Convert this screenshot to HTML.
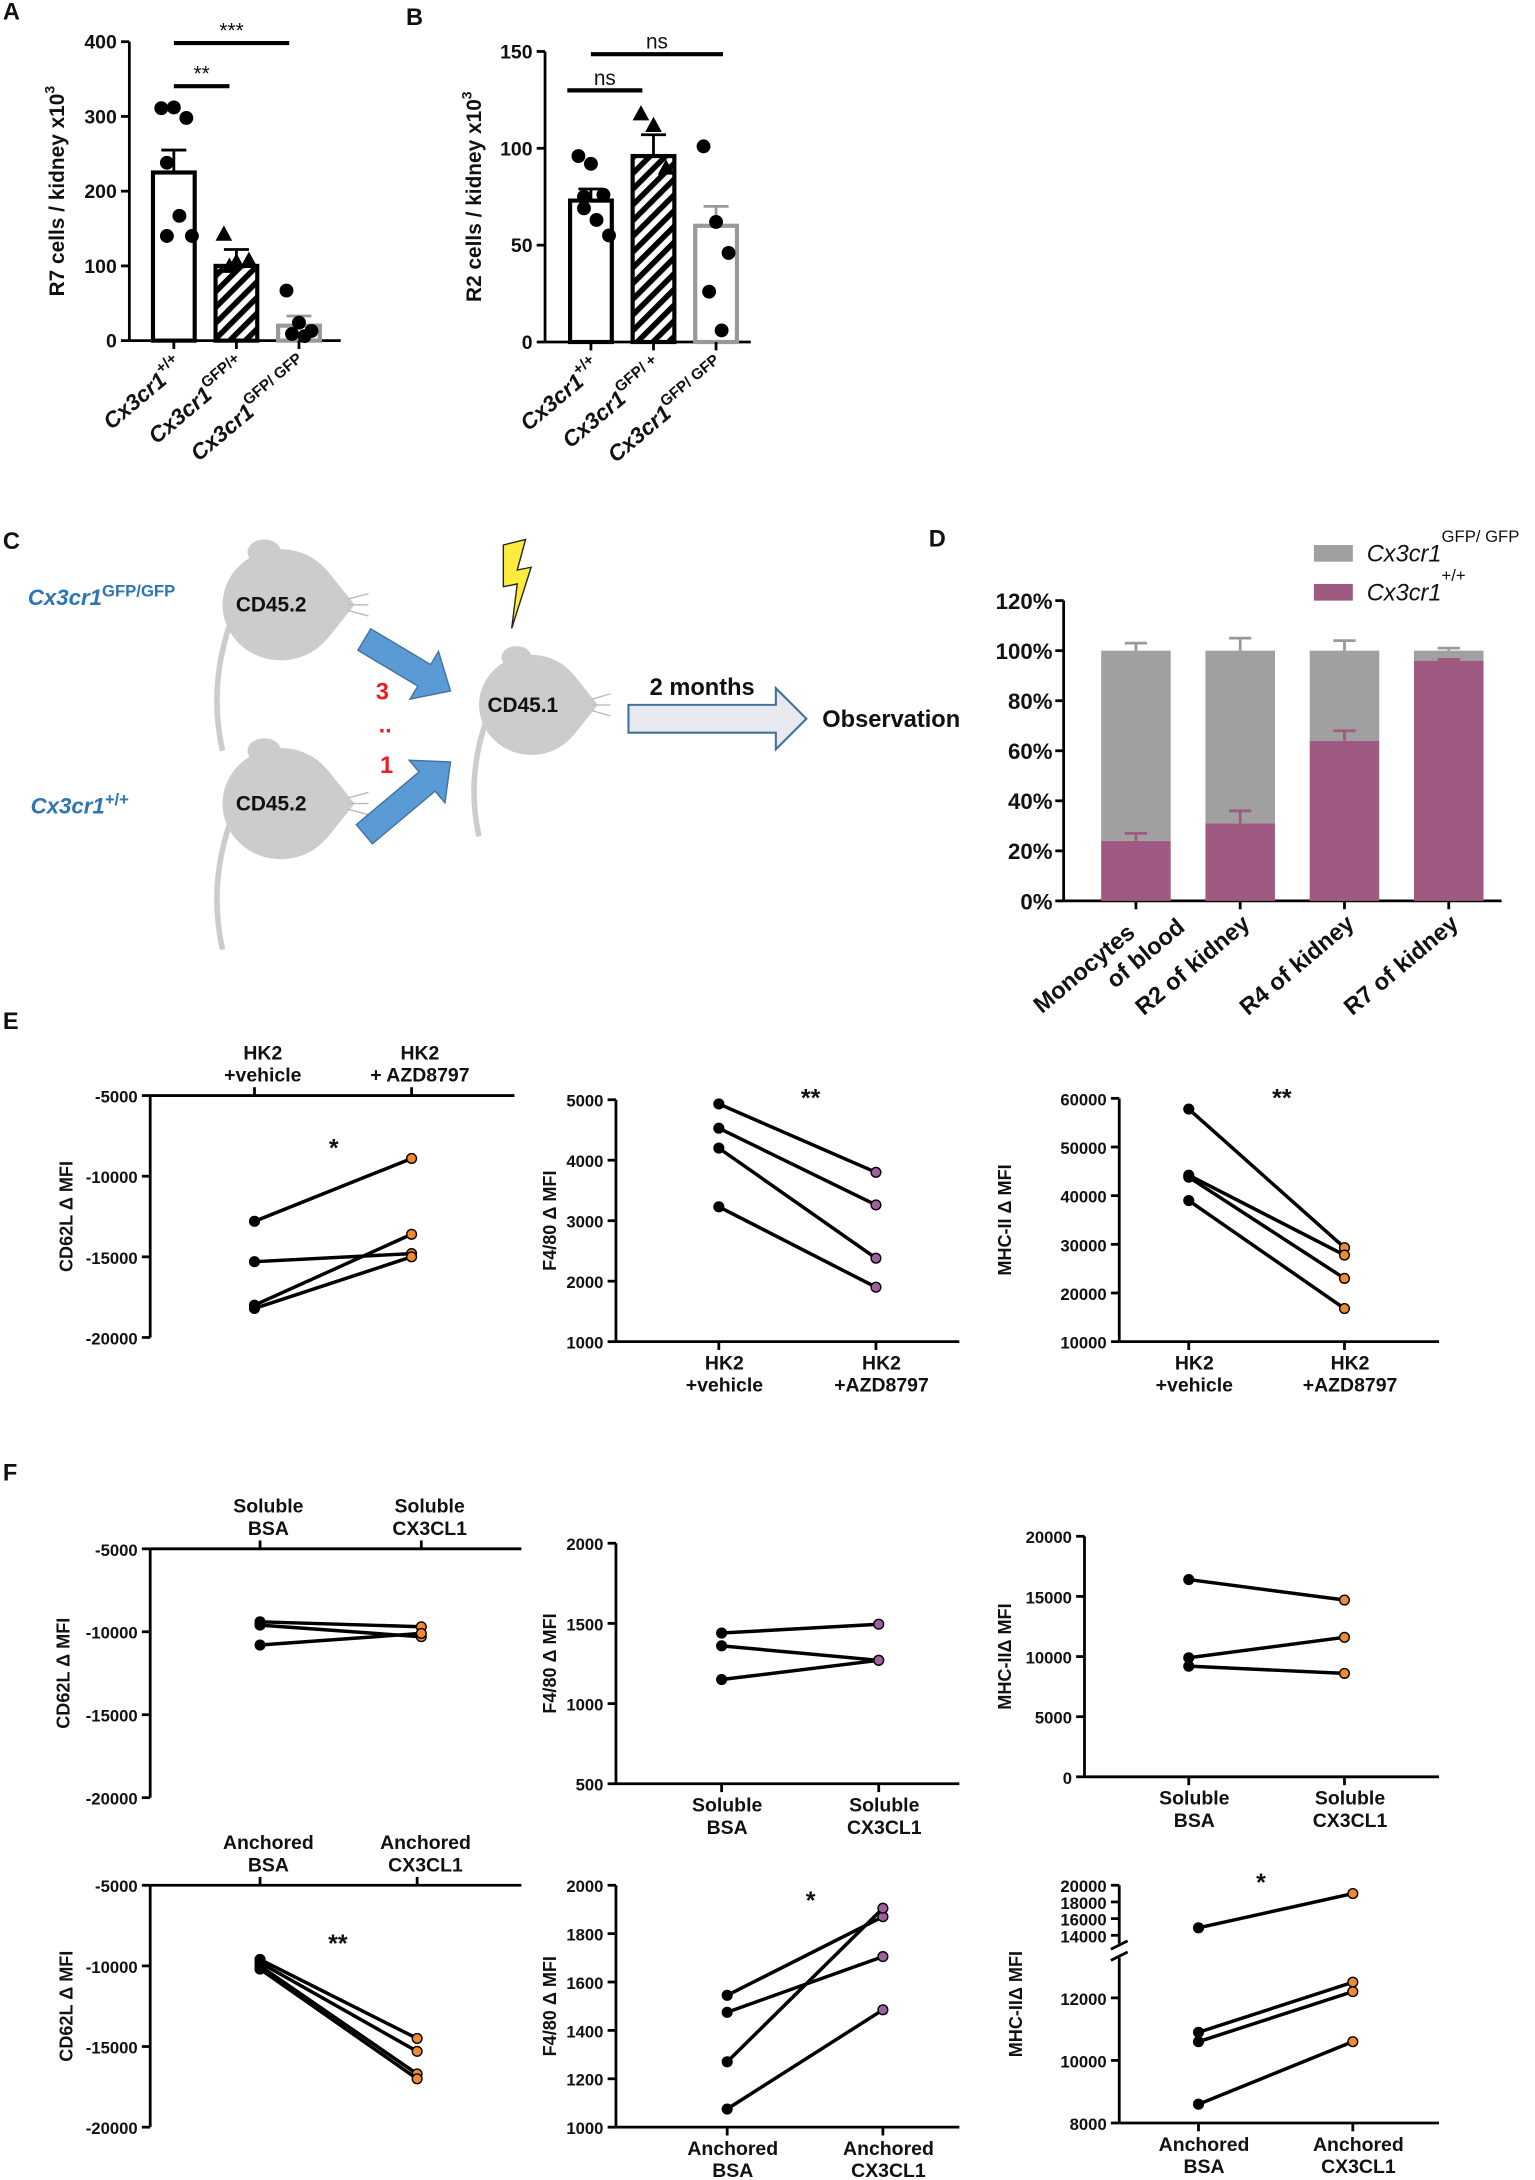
<!DOCTYPE html>
<html><head><meta charset="utf-8">
<style>
body{margin:0;background:#fff}
svg{display:block;font-family:"Liberation Sans",Arial,sans-serif;font-weight:bold}
text{fill:#111}
</style></head><body>
<svg id="fig" width="1535" height="2180" viewBox="0 0 1104 1568" xmlns="http://www.w3.org/2000/svg">
<g id="g"></g>
</svg>
<script>
// ---------- DATA ----------
const aCats=["Cx3cr1","Cx3cr1","Cx3cr1"];
const aSup=["+/+","GFP/+","GFP/ GFP"];
const aMeans=[225,100,20];
const aErr=[30,22,13];
const aPts1=[311,312,298,238,167,140,140];
const aPts2=[143,106,108,100];
const aPts3=[67,24,13,9,6];
const aTicks=[0,100,200,300,400];

const bSup=["+/+","GFP/ +","GFP/ GFP"];
const bMeans=[73,96,60];
const bErr=[6,11,10];
const bPts1=[96,92,76,69,63,55,75];
const bPts2=[118,112,90];
const bPts3=[101,62,46,26,6];
const bTicks=[0,50,100,150];

const dCats=["Monocytes\nof blood","R2 of kidney","R4 of kidney","R7 of kidney"];
const dWT=[24,31,64,96];
const dWTerr=[3,5,4,0.5];
const dGFPerr=[3,5,4,1];
const dTicks=[0,20,40,60,80,100,120];

const e1L=[-12800,-15300,-18000,-18200];
const e1R=[-8900,-14800,-13600,-15000];
const e2L=[4930,4530,4200,3230];
const e2R=[3800,3260,2380,1900];
const e3L=[57800,44200,43800,39000];
const e3R=[29300,27800,23000,16800];

const f1L=[-9600,-9400,-10800];
const f1R=[-10300,-9700,-10100];
const f2L=[1440,1360,1150];
const f2R=[1495,1270,1270];
const f3L=[16400,9900,9200];
const f3R=[14700,11600,8600];
const f4L=[-9600,-9800,-10000,-10200];
const f4R=[-14500,-15300,-16700,-17000];
const f5L=[1545,1475,1270,1075];
const f5R=[1870,1705,1905,1485];
const f6L=[14900,10900,10600,8600];
const f6R=[19000,12500,12200,10600];

// ---------- HELPERS ----------
const NS="http://www.w3.org/2000/svg";
const G=document.getElementById('g');
function el(tag,attrs,parent,txt){const e=document.createElementNS(NS,tag);for(const k in attrs)e.setAttribute(k,attrs[k]);if(txt!==undefined)e.textContent=txt;(parent||G).appendChild(e);return e;}
function line(x1,y1,x2,y2,w,c,p){return el('line',{x1,y1,x2,y2,stroke:c||'#000','stroke-width':w||2},p);}
function txt(x,y,s,size,anchor,p,extra){const a={x,y,'font-size':size||13,'text-anchor':anchor||'middle'};Object.assign(a,extra||{});return el('text',a,p,s);}

el('defs',{},G).innerHTML='<pattern id="hatch" patternUnits="userSpaceOnUse" width="8" height="8" patternTransform="rotate(45)"><rect width="8" height="8" fill="#fff"/><rect width="4" height="8" fill="#000"/></pattern>';

// ---------- BAR SCATTER PANEL ----------
function barPanel(o){
  const p=el('g',{});
  
  
  const ys=v=>o.y0-(v-o.min)/(o.max-o.min)*(o.y0-o.y1);
  line(o.ax,o.y1,o.ax,o.y0,2,'#000',p);
  line(o.ax,o.y0,o.xEnd,o.y0,2,'#000',p);
  o.ticks.forEach(t=>{line(o.ax-6,ys(t),o.ax,ys(t),2,'#000',p);txt(o.ax-9,ys(t)+5,t,14,'end',p);});
  o.means.forEach((m,i)=>{
    const cx=o.xs[i],w=30;
    const fill=i==1?'url(#hatch)':'#fff';
    const stroke=i==2?'#999':'#000';
    const r=el('rect',{x:cx-w/2,y:ys(m),width:w,height:o.y0-ys(m),fill,stroke,'stroke-width':3},p);
    
    
    line(cx,ys(m),cx,ys(m+o.err[i]),2,stroke,p);
    line(cx-9,ys(m+o.err[i]),cx+9,ys(m+o.err[i]),2,stroke,p);
    line(cx,o.y0,cx,o.y0+6,2,'#000',p);
    const pts=o.pts[i];
    pts.forEach((v,j)=>{
      const dx=((j%3)-1)*9+(j>=3?4:0);
      const y=ys(v),x=cx+dx;
      if(i==1){el('path',{d:`M${x} ${y-6}L${x+6} ${y+5}L${x-6} ${y+5}Z`,fill:'#000'},p);}
      else el('circle',{cx:x,cy:y,r:5,fill:'#000'},p);
    });
    const lab=el('text',{transform:`translate(${cx+8},${o.y0+20}) rotate(-40)`,'text-anchor':'end','font-size':16,'font-style':'italic'},p);
    
    
    lab.textContent='Cx3cr1';
    el('tspan',{dy:-8,'font-size':11,'font-style':'normal'},lab,o.sup[i]);
  });
  o.sig.forEach(s=>{line(s[0],s[2],s[1],s[2],3,'#000',p);txt((s[0]+s[1])/2,s[2]-4,s[3],s[3]=='ns'?15:15,'middle',p,{'font-weight':'normal'});});
  const yl=el('text',{transform:`translate(${o.ylx},${(o.y0+o.y1)/2}) rotate(-90)`,'text-anchor':'middle','font-size':15},p);
  
  
  yl.textContent=o.ylab;
  el('tspan',{dy:-7,'font-size':10},yl,'3');
}
barPanel({name:'panel-a',ax:93,y0:245,y1:30,min:0,max:400,xEnd:245,ticks:aTicks,xs:[125,170,215],means:aMeans,err:aErr,pts:[aPts1,aPts2,aPts3],sup:aSup,
  sig:[[125,165,62,'**'],[125,208,31,'***']],ylx:46,ylab:'R7 cells / kidney x10'});
barPanel({name:'panel-b',ax:392,y0:246,y1:37,min:0,max:150,xEnd:540,ticks:bTicks,xs:[425,470,515],means:bMeans,err:bErr,pts:[bPts1,bPts2,bPts3],sup:bSup,
  sig:[[408,462,65,'ns'],[425,520,39,'ns']],ylx:346,ylab:'R2 cells / kidney x10'});

// panel letters
[['A',2,14],['B',292,18],['C',2,395],['D',668,393],['E',2,740],['F',2,1065]].forEach(l=>{const t=txt(l[1],l[2],l[0],17,'start');});

// ---------- PANEL C ----------
(function(){
  const p=el('g',{});
  
  
  function mouse(cx,cy,s,label){
    el('path',{d:`M${cx-40*s} ${cy+15*s} Q${cx-55*s} ${cy+60*s} ${cx-45*s} ${cy+105*s}`,stroke:'#ccc','stroke-width':4,fill:'none'},p);
    el('ellipse',{cx:cx-3*s,cy:cy,rx:42*s,ry:40*s,fill:'#ccc'},p);
    el('ellipse',{cx:cx-15*s,cy:cy-38*s,rx:12*s,ry:9*s,fill:'#ccc'},p);
    el('path',{d:`M${cx+30*s} ${cy-25*s} L${cx+50*s} ${cy} L${cx+30*s} ${cy+25*s}Z`,fill:'#ccc'},p);
    for(let k=-1;k<=1;k++)line(cx+45*s,cy+k*4,cx+60*s,cy+k*8,1,'#bbb',p);
    txt(cx-10*s,cy+5,label,15,'middle',p);
  }
  mouse(205,435,1,'CD45.2');
  mouse(205,578,1,'CD45.2');
  mouse(385,507,0.9,'CD45.1');
  function arrow(x1,y1,x2,y2){
    const a=Math.atan2(y2-y1,x2-x1),L=Math.hypot(x2-x1,y2-y1);
    el('path',{d:'M0 -9 L'+(L-22)+' -9 L'+(L-22)+' -20 L'+L+' 0 L'+(L-22)+' 20 L'+(L-22)+' 9 L0 9Z',fill:'#5b9bd5',stroke:'#41719c','stroke-width':1,transform:`translate(${x1},${y1}) rotate(${a*180/Math.PI})`},p);
  }
  arrow(262,460,324,497);
  arrow(262,600,324,548);
  txt(275,503,'3',17,'middle',p,{style:'fill:#e82020'});
  txt(277,527,'..',17,'middle',p,{style:'fill:#e82020'});
  txt(278,556,'1',17,'middle',p,{style:'fill:#e82020'});
  el('path',{d:'M362 392 L378 388 L372 410 L382 408 L368 452 L372 420 L362 422 Z',fill:'#ffeb3b',stroke:'#222','stroke-width':1},p);
  el('path',{d:'M452 507 L558 507 L558 495 L580 517 L558 539 L558 527 L452 527 Z',fill:'#e7e9ee',stroke:'#41719c','stroke-width':1.5},p);
  txt(505,500,'2 months',17,'middle',p);
  txt(641,523,'Observation',17,'middle',p);
  const l1=txt(20,435,'Cx3cr1',16,'start',p,{'font-style':'italic',style:'fill:#2e75b6'});
  el('tspan',{dy:-6,'font-size':12,'font-style':'normal',style:'fill:#2e75b6'},l1,'GFP/GFP');
  const l2=txt(22,585,'Cx3cr1',16,'start',p,{'font-style':'italic',style:'fill:#2e75b6'});
  el('tspan',{dy:-6,'font-size':12,'font-style':'normal',style:'fill:#2e75b6'},l2,'+/+');
})();

// ---------- PANEL D ----------
(function(){
  const p=el('g',{});
  
  
  const y0=648,y1=432,ax=765;
  const ys=v=>y0-v/120*(y0-y1);
  line(ax,y1,ax,y0,2,'#000',p);line(ax,y0,1080,y0,2,'#000',p);
  dTicks.forEach(t=>{line(ax-6,ys(t),ax,ys(t),2,'#000',p);txt(ax-8,ys(t)+6,t+'%',16,'end',p);});
  const xs=[817,892,967,1042];
  dWT.forEach((v,i)=>{
    const cx=xs[i],w=50;
    line(cx,ys(100),cx,ys(100+dGFPerr[i]),2,'#999',p);line(cx-8,ys(100+dGFPerr[i]),cx+8,ys(100+dGFPerr[i]),2,'#999',p);
    const g=el('rect',{x:cx-w/2,y:ys(100),width:w,height:ys(v)-ys(100),fill:'#a0a0a0'},p);
    
    
    line(cx,ys(v),cx,ys(v+dWTerr[i]),2,'#9e5a80',p);line(cx-8,ys(v+dWTerr[i]),cx+8,ys(v+dWTerr[i]),2,'#9e5a80',p);
    const r=el('rect',{x:cx-w/2,y:ys(v),width:w,height:y0-ys(v),fill:'#9e5a80'},p);
    
    
    line(cx,y0,cx,y0+6,2,'#000',p);
    const parts=dCats[i].split('\n');
    const t=el('text',{transform:`translate(${cx+8},${y0+18}) rotate(-40)`,'text-anchor':'end','font-size':17},p);
    parts.forEach((s,k)=>el('tspan',{x:0,dy:k?20:0},t,s));
    if(parts.length>1){t.firstChild.setAttribute('x',-10);t.lastChild.setAttribute('x',20);}
  });
  el('rect',{x:945,y:392,width:28,height:12,fill:'#a0a0a0'},p);
  const t1=txt(983,404,'Cx3cr1',17,'start',p,{'font-style':'italic','font-weight':'normal'});
  el('tspan',{dy:-14,'font-size':12,'font-style':'normal'},t1,'GFP/ GFP');
  el('rect',{x:945,y:420,width:28,height:12,fill:'#9e5a80'},p);
  const t2=txt(983,432,'Cx3cr1',17,'start',p,{'font-style':'italic','font-weight':'normal'});
  el('tspan',{dy:-14,'font-size':12,'font-style':'normal'},t2,'+/+');
})();

// ---------- PAIRED LINE CHARTS ----------
function pairChart(o){
  const p=el('g',{});
  
  
  const ys=o.ys;
  line(o.ax,o.yTop,o.ax,o.yBot,2,'#000',p);
  const xAxY=o.top?o.yTop:o.yBot;
  line(o.ax,xAxY,o.xEnd,xAxY,2,'#000',p);
  o.ticks.forEach(t=>{line(o.ax-6,ys(t),o.ax,ys(t),2,'#000',p);txt(o.ax-9,ys(t)+5,t,12,'end',p);});
  [o.xl,o.xr].forEach((x,i)=>{
    line(x,xAxY,x,xAxY+(o.top?-6:6),2,'#000',p);
    const lab=o.labels[i].split('\n');
    lab.forEach((s,k)=>{
      const y=o.top?xAxY-26+k*16:xAxY+20+k*16;
      txt(x+(o.top?6:4),y,s,14,'middle',p);
    });
  });
  o.L.forEach((v,i)=>{
    const l=line(o.xl,ys(v),o.xr,ys(o.R[i]),2.5,'#000',p);
    
    
    el('circle',{cx:o.xl,cy:ys(v),r:4,fill:'#000'},p);
    el('circle',{cx:o.xr,cy:ys(o.R[i]),r:3.5,fill:o.rc,stroke:'#000','stroke-width':1},p);
  });
  if(o.star)txt(o.star[0],o.star[1],o.star[2],18,'middle',p);
  const yl=el('text',{transform:`translate(${o.ylx},${(o.yTop+o.yBot)/2}) rotate(-90)`,'text-anchor':'middle','font-size':13},p);
  
  
  yl.textContent=o.ylab;
}
const lin=(v0,y0,v1,y1)=>v=>y0+(v-v0)*(y1-y0)/(v1-v0);
const OR='#f08a30',PU='#a060a0';
const lbV=['HK2\n+vehicle','HK2\n+AZD8797'];
pairChart({name:'chart-e-cd62l',ax:108,yTop:788,yBot:962,xEnd:370,top:true,ys:lin(-5000,788,-20000,962),ticks:[-5000,-10000,-15000,-20000],xl:183,xr:296,labels:['HK2\n+vehicle','HK2\n+ AZD8797'],L:e1L,R:e1R,rc:OR,star:[240,832,'*'],ylx:52,ylab:'CD62L Δ MFI'});
pairChart({name:'chart-e-f480',ax:443,yTop:791,yBot:965,xEnd:690,ys:lin(5000,791,1000,965),ticks:[5000,4000,3000,2000,1000],xl:517,xr:630,labels:lbV,L:e2L,R:e2R,rc:PU,star:[583,796,'**'],ylx:400,ylab:'F4/80 Δ MFI'});
pairChart({name:'chart-e-mhc',ax:805,yTop:790,yBot:965,xEnd:1035,ys:lin(60000,790,10000,965),ticks:[60000,50000,40000,30000,20000,10000],xl:855,xr:967,labels:lbV,L:e3L,R:e3R,rc:OR,star:[922,796,'**'],ylx:727,ylab:'MHC-II Δ MFI'});

const lbS=['Soluble\nBSA','Soluble\nCX3CL1'],lbA=['Anchored\nBSA','Anchored\nCX3CL1'];
pairChart({name:'chart-f-cd62l-soluble',ax:108,yTop:1114,yBot:1293,xEnd:375,top:true,ys:lin(-5000,1114,-20000,1293),ticks:[-5000,-10000,-15000,-20000],xl:187,xr:303,labels:lbS,L:f1L,R:f1R,rc:OR,ylx:50,ylab:'CD62L Δ MFI'});
pairChart({name:'chart-f-f480-soluble',ax:443,yTop:1110,yBot:1283,xEnd:690,ys:lin(2000,1110,500,1283),ticks:[2000,1500,1000,500],xl:519,xr:632,labels:lbS,L:f2L,R:f2R,rc:PU,ylx:400,ylab:'F4/80 Δ MFI'});
pairChart({name:'chart-f-mhc-soluble',ax:780,yTop:1105,yBot:1278,xEnd:1035,ys:lin(20000,1105,0,1278),ticks:[20000,15000,10000,5000,0],xl:855,xr:967,labels:lbS,L:f3L,R:f3R,rc:OR,ylx:727,ylab:'MHC-IIΔ MFI'});
pairChart({name:'chart-f-cd62l-anchored',ax:108,yTop:1356,yBot:1530,xEnd:375,top:true,ys:lin(-5000,1356,-20000,1530),ticks:[-5000,-10000,-15000,-20000],xl:187,xr:300,labels:lbA,L:f4L,R:f4R,rc:OR,star:[243,1404,'**'],ylx:52,ylab:'CD62L Δ MFI'});
pairChart({name:'chart-f-f480-anchored',ax:443,yTop:1356,yBot:1530,xEnd:690,ys:lin(2000,1356,1000,1530),ticks:[2000,1800,1600,1400,1200,1000],xl:523,xr:635,labels:lbA,L:f5L,R:f5R,rc:PU,star:[583,1373,'*'],ylx:400,ylab:'F4/80 Δ MFI'});
// broken axis scale
const f6ys=v=>v>=14000?1356+(20000-v)*6/1000:1527-(v-8000)*22.5/1000;
pairChart({name:'chart-f-mhc-anchored',ax:805,yTop:1356,yBot:1527,xEnd:1035,ys:f6ys,ticks:[20000,18000,16000,14000,12000,10000,8000],xl:862,xr:973,labels:lbA,L:f6L,R:f6R,rc:OR,star:[907,1360,'*'],ylx:735,ylab:'MHC-IIΔ MFI'});
el('rect',{x:798,y:1398,width:14,height:10,fill:'#fff'});
line(799,1402,811,1396,2);line(799,1410,811,1404,2);
</script>
</body></html>
